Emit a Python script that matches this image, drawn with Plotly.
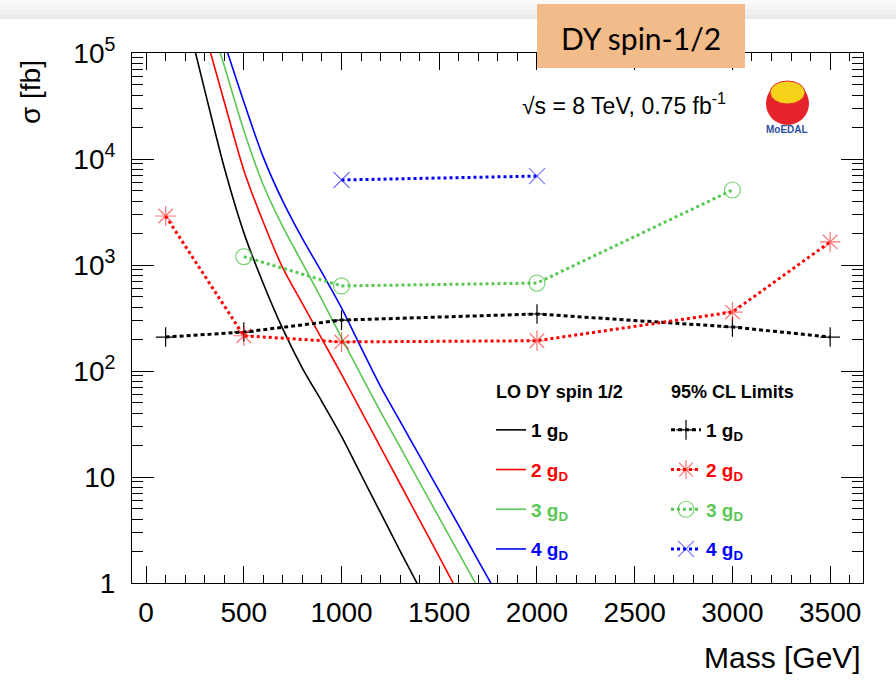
import plotly.graph_objects as go

# ---------------- data ----------------
# LO Drell-Yan spin-1/2 cross sections (theory curves)
mass_th_1 = [200, 300, 400, 500, 600, 700, 800, 900, 1000, 1100, 1200, 1300, 1400]
xs_th_1 = [250000, 44700, 8300, 2020, 665, 248, 106, 51.3, 24.2, 10.5, 4.58, 2.0, 0.89]

mass_th_2 = [300, 400, 500, 600, 700, 800, 900, 1000, 1100, 1200, 1300, 1400, 1500, 1600]
xs_th_2 = [158000, 34700, 7850, 2530, 933, 432, 200, 93, 42.1, 19.0, 8.59, 3.89, 1.76, 0.79]

mass_th_3 = [350, 400, 500, 600, 700, 800, 900, 1000, 1100, 1200, 1300, 1400, 1500, 1600, 1700]
xs_th_3 = [148000, 75900, 18600, 5690, 2290, 1040, 470, 206, 91.2, 41.2, 19.1, 8.87, 4.11, 1.91, 0.885]

mass_th_4 = [400, 500, 600, 700, 800, 900, 1000, 1100, 1200, 1300, 1400, 1500, 1600, 1700, 1800]
xs_th_4 = [126000, 34700, 10350, 3980, 1770, 847, 393, 166, 71.3, 33.5, 15.7, 7.4, 3.47, 1.62, 0.76]

# 95% CL limits
mass_lim_1 = [100, 500, 1000, 2000, 3000, 3500]
xs_lim_1 = [209, 233, 302, 345, 260, 209]

mass_lim_2 = [100, 500, 1000, 2000, 3000, 3500]
xs_lim_2 = [2900, 215, 188, 193, 360, 1650]

mass_lim_3 = [500, 1000, 2000, 3000]
xs_lim_3 = [1200, 635, 675, 5100]

mass_lim_4 = [1000, 2000]
xs_lim_4 = [6340, 6900]

x_tick_vals = [0, 500, 1000, 1500, 2000, 2500, 3000, 3500]
y_tick_vals = [1, 10, 100, 1000, 10000, 100000]
y_tick_text = ["1", "10", "10<sup>2</sup>", "10<sup>3</sup>", "10<sup>4</sup>", "10<sup>5</sup>"]
y_minor_vals = [m * 10 ** k for k in range(0, 5) for m in range(2, 10)]

# ---------------- style ----------------
FONT = "Liberation Sans"
W, H = 896, 689
L, R, T, B = 132, 33, 53, 106
PW, PH = W - L - R, H - T - B

def px(x):
    return (x - L) / PW

def py(y):
    return (H - B - y) / PH

colors = ["#000000", "#ff0000", "#59c853", "#0000ff"]
marker_colors = ["#000000", "rgba(255,0,0,0.55)", "rgba(89,200,83,0.8)", "rgba(0,0,255,0.55)"]
symbols = ["cross-thin", "asterisk", "circle-open", "x-thin"]
msizes = [14, 17, 16, 16]
dashes = ["4px,3px", "dot", "dot", "dot"]

def label(i, c):
    return "<span style='color:%s'><b>%d g<sub>D</sub></b></span>" % (c, i)

fig = go.Figure()

theory = [(mass_th_1, xs_th_1), (mass_th_2, xs_th_2), (mass_th_3, xs_th_3), (mass_th_4, xs_th_4)]
limits = [(mass_lim_1, xs_lim_1), (mass_lim_2, xs_lim_2), (mass_lim_3, xs_lim_3), (mass_lim_4, xs_lim_4)]

for i, (mx, sy) in enumerate(theory):
    fig.add_trace(go.Scatter(
        x=mx, y=sy, mode="lines",
        line=dict(color=colors[i], width=1.6, shape="spline", smoothing=0.8),
        name=label(i + 1, colors[i]), legend="legend", legendgroup="th%d" % i,
    ))

for i, (mx, sy) in enumerate(limits):
    fig.add_trace(go.Scatter(
        x=mx, y=sy, mode="lines+markers",
        line=dict(color=colors[i], width=3, dash=dashes[i]),
        marker=dict(symbol=symbols[i], size=msizes[i], color=marker_colors[i],
                    line=dict(color=marker_colors[i], width=1.2)),
        name=label(i + 1, colors[i]), legend="legend2", legendgroup="lim%d" % i,
    ))

axis_common = dict(
    showline=True, linecolor="black", linewidth=1, mirror="allticks",
    ticks="inside", tickcolor="black", tickwidth=1, showgrid=False, zeroline=False,
    tickfont=dict(family=FONT, size=28, color="black"),
)

fig.update_xaxes(
    range=[-72, 3668], tickmode="array", tickvals=x_tick_vals, ticklen=17,
    minor=dict(ticks="inside", ticklen=8, dtick=100, tick0=0, tickcolor="black", showgrid=False),
    ticklabelstandoff=4, **axis_common,
)
fig.update_yaxes(
    type="log", range=[0, 5], tickmode="array", tickvals=y_tick_vals, ticktext=y_tick_text,
    ticklen=22,
    minor=dict(ticks="inside", ticklen=11, tickmode="array", tickvals=y_minor_vals,
               tickcolor="black", showgrid=False),
    ticklabelstandoff=10, **axis_common,
)

legend_common = dict(
    bgcolor="rgba(0,0,0,0)", borderwidth=0, traceorder="grouped", tracegroupgap=12,
    itemwidth=30, xanchor="left", yanchor="top",
    font=dict(family=FONT, size=19, color="black"),
)
fig.update_layout(
    width=W, height=H, margin=dict(l=L, r=R, t=T, b=B),
    paper_bgcolor="white", plot_bgcolor="white",
    legend=dict(x=px(491), y=py(411), **legend_common),
    legend2=dict(x=px(666), y=py(411), **legend_common),
    showlegend=True,
)

shapes = []
# slide top gradient bar
grays = ["#f9f9f9", "#f4f4f4", "#efefef", "#eaeaea"]
for k, g in enumerate(grays):
    shapes.append(dict(type="rect", xref="paper", yref="paper",
                       x0=px(0), x1=px(W), y0=py(k * 4.75), y1=py((k + 1) * 4.75),
                       fillcolor=g, line=dict(width=0), layer="above"))
# orange title box
shapes.append(dict(type="rect", xref="paper", yref="paper",
                   x0=px(537), x1=px(745), y0=py(4), y1=py(68),
                   fillcolor="#F2BB8A", line=dict(width=0), layer="above"))
# MoEDAL logo
shapes.append(dict(type="circle", xref="paper", yref="paper",
                   x0=px(766), x1=px(809), y0=py(82), y1=py(125),
                   fillcolor="#e5232b", line=dict(width=0), layer="above"))
shapes.append(dict(type="circle", xref="paper", yref="paper",
                   x0=px(770), x1=px(805), y0=py(81), y1=py(104),
                   fillcolor="#f6d21a", line=dict(color="#e5232b", width=1), layer="above"))
fig.update_layout(shapes=shapes)

annotations = [
    dict(text="DY spin-1/2", xref="paper", yref="paper", x=px(641), y=py(38),
         xanchor="center", yanchor="middle", showarrow=False,
         font=dict(family="Lato", size=30, color="black")),
    dict(text="√s = 8 TeV, 0.75 fb<sup>-1</sup>", xref="paper", yref="paper",
         x=px(520), y=py(104), xanchor="left", yanchor="middle", showarrow=False,
         font=dict(family=FONT, size=23, color="black")),
    dict(text="<b>MoEDAL</b>", xref="paper", yref="paper", x=px(787), y=py(129),
         xanchor="center", yanchor="middle", showarrow=False,
         font=dict(family=FONT, size=10, color="#2b4f9e")),
    dict(text="σ [fb]", xref="paper", yref="paper", x=px(30), y=py(58),
         xanchor="center", yanchor="top", textangle=-90, showarrow=False,
         font=dict(family=FONT, size=28, color="black")),
    dict(text="Mass [GeV]", xref="paper", yref="paper", x=px(863), y=py(657),
         xanchor="right", yanchor="middle", showarrow=False,
         font=dict(family=FONT, size=30, color="black")),
    dict(text="<b>LO DY spin 1/2</b>", xref="paper", yref="paper", x=px(494), y=py(392),
         xanchor="left", yanchor="middle", showarrow=False,
         font=dict(family=FONT, size=18, color="black")),
    dict(text="<b>95% CL Limits</b>", xref="paper", yref="paper", x=px(669), y=py(392),
         xanchor="left", yanchor="middle", showarrow=False,
         font=dict(family=FONT, size=18, color="black")),
]
fig.update_layout(annotations=annotations)

fig.write_html("out.html", config={"displayModeBar": False},
               post_script="document.body.style.margin='0px';")
